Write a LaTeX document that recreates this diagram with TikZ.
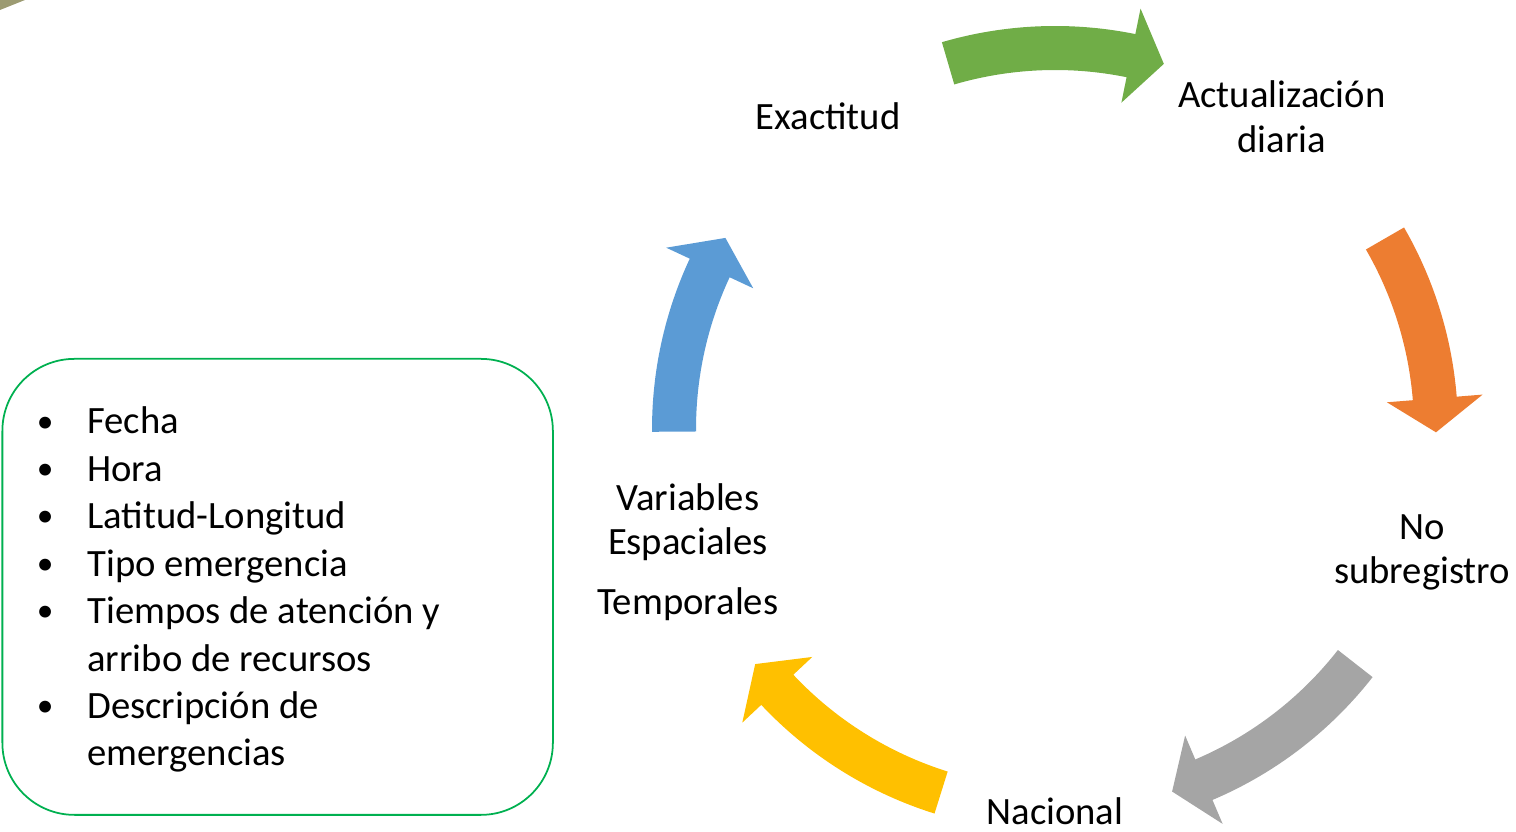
\documentclass[tikz,border=0pt]{standalone}
\usepackage{fontspec}
\setmainfont{Carlito}
\usetikzlibrary{positioning}

\definecolor{arrgreen}{HTML}{70AD47}
\definecolor{arrorange}{HTML}{ED7D31}
\definecolor{arrgrey}{HTML}{A5A5A5}
\definecolor{arryellow}{HTML}{FFC000}
\definecolor{arrblue}{HTML}{5B9BD5}
\definecolor{boxgreen}{HTML}{00B050}
\definecolor{cornerolive}{HTML}{9C9B72}

% curved block arrow round (hub): colour, from angle, to angle
\newcommand{\cyclearrow}[3]{%
  \fill[#1] ([shift={(#2:8.06)}]hub) arc[start angle=#2, end angle=#3+5.1, radius=8.06]
    -- ([shift={({#3+5.1}:8.58)}]hub) -- ([shift={(#3:7.62)}]hub)
    -- ([shift={({#3+5.1}:6.66)}]hub) -- ([shift={({#3+5.1}:7.18)}]hub)
    arc[start angle=#3+5.1, end angle=#2, radius=7.18] -- cycle;}
\newcommand{\listdot}{\raisebox{1pt}{\fontsize{19}{19}\selectfont\textbullet}}

\begin{document}
\begin{tikzpicture}
[cyctext/.style={align=center, inner sep=0pt, font=\fontsize{22}{25.3}\selectfont},
 databox/.style={draw=boxgreen, line width=1pt, rounded corners=1.44cm}]
\useasboundingbox (0,0) rectangle (30.32,16.64);
\fill[cornerolive] (0,16.64) -- (0.5,16.64) -- (0,16.44) -- cycle;
\coordinate (hub) at (21.10,8.06);
% the cycle
\cyclearrow{arrgreen}{106.3}{73.4}
\cyclearrow{arrorange}{30.0}{-0.5}
\cyclearrow{arrgrey}{-38.0}{-72.1}
\cyclearrow{arryellow}{-107.4}{-141.9}
\cyclearrow{arrblue}{180.4}{149.9}
\node[cyctext] (exact) at ([shift={(126:7.72)}]hub) {Exactitud};
\node[cyctext] (actual) at ([shift={(54:7.72)}]hub) {Actualización\\diaria};
\node[cyctext, yshift=-0.08cm] (nosub) at ([shift={(-18:7.72)}]hub) {No\\subregistro};
\node[cyctext, anchor=base] (nacional) at (21.10,0.15) {Nacional};
\node[cyctext, yshift=-0.08cm] (variables) at ([shift={(198:7.72)}]hub)
  {Variables\\Espaciales\\[9pt]Temporales};
% data list
\node[databox, minimum width=11.01cm, minimum height=9.12cm, anchor=north west]
  (datos) at (0.03,9.48) {};
\node[cyctext, anchor=west, align=left, font=\fontsize{22}{27}\selectfont]
  (lista) at ([xshift=0.70cm, yshift=-0.07cm]datos.west)
  {\begin{tabular}{@{}p{1.01cm}@{}l@{}}
   \listdot & Fecha\\
   \listdot & Hora\\
   \listdot & Latitud-Longitud\\
   \listdot & Tipo emergencia\\
   \listdot & Tiempos de atención y\\
            & arribo de recursos\\
   \listdot & Descripción de\\
            & emergencias
   \end{tabular}};
\end{tikzpicture}
\end{document}
